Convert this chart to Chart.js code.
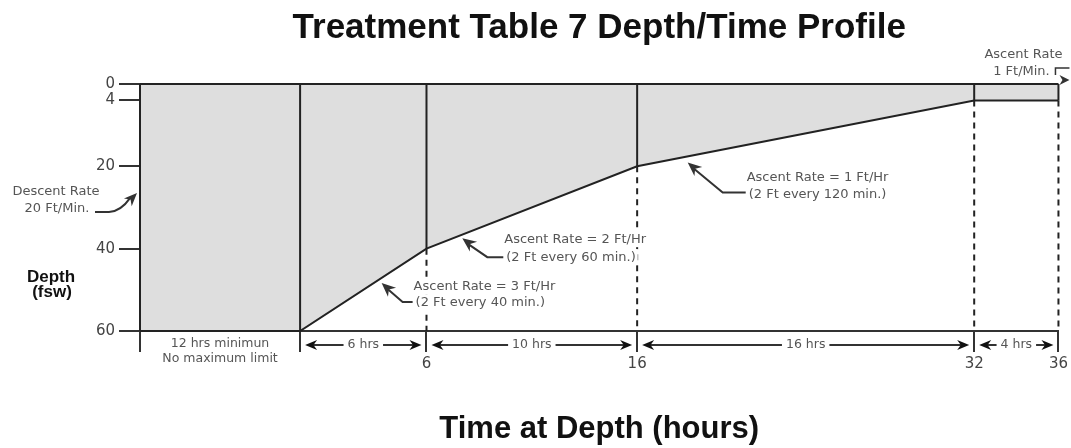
<!DOCTYPE html>
<html><head><meta charset="utf-8">
<script src="https://cdn.jsdelivr.net/npm/chart.js@4.4.1/dist/chart.umd.min.js"></script>
<style>html,body{margin:0;padding:0;background:#fff;}#wrap{width:1071px;height:448px;position:relative;}</style>
</head><body><div id="wrap"><canvas id="c"></canvas></div>
<script>
const chartTitle = 'Treatment Table 7 Depth/Time Profile';
const xAxisTitle = 'Time at Depth (hours)';
const yAxisTitle = ['Depth', '(fsw)'];
// stage boundaries (hours); the 12-hour minimum first stage is drawn compressed, starting at -7.6
const stageTimes = [-7.6, 0, 6, 16, 32, 36];
const stageDepths = [60, 60, 40, 20, 4, 4];
const xTickLabels = ['', '', '6', '16', '32', '36'];
const depthTicks = [0, 4, 20, 40, 60];
const firstStageNote = ['12 hrs minimun', 'No maximum limit'];
const durationLabels = ['6 hrs', '10 hrs', '16 hrs', '4 hrs'];
const descentNote = ['Descent Rate', '20 Ft/Min.'];
const ascentNotes = [
  ['Ascent Rate = 3 Ft/Hr', '(2 Ft every 40 min.)'],
  ['Ascent Rate = 2 Ft/Hr', '(2 Ft every 60 min.)'],
  ['Ascent Rate = 1 Ft/Hr', '(2 Ft every 120 min.)']
];
const surfaceNote = ['Ascent Rate', '1 Ft/Min.'];

const LINE = '#222', TEXT = '#555', ARROW = '#333', FILL = '#dedede';
const NOTE_FONT = '13px "DejaVu Sans"';

function depthAt(t) {
  for (let i = 1; i < stageTimes.length; i++) {
    if (t <= stageTimes[i]) {
      const f = (t - stageTimes[i-1]) / (stageTimes[i] - stageTimes[i-1]);
      return stageDepths[i-1] + f * (stageDepths[i] - stageDepths[i-1]);
    }
  }
  return stageDepths[stageDepths.length - 1];
}

function arrowHead(ctx, fx, fy, tx, ty, len, hw) {
  len = len || 12; hw = hw || 5;
  const a = Math.atan2(ty - fy, tx - fx), c = Math.cos(a), s = Math.sin(a);
  ctx.beginPath();
  ctx.moveTo(tx, ty);
  ctx.lineTo(tx - len*c + hw*s, ty - len*s - hw*c);
  ctx.lineTo(tx - len*0.7*c, ty - len*0.7*s);
  ctx.lineTo(tx - len*c - hw*s, ty - len*s + hw*c);
  ctx.closePath();
  ctx.fill();
}

function textBg(ctx, txt, x, y, align) {
  const w = ctx.measureText(txt).width;
  let x0 = align === 'center' ? x - w/2 : (align === 'right' ? x - w : x);
  ctx.fillStyle = '#fff';
  ctx.fillRect(x0 - 2, y - 8, w + 4, 16);
  ctx.fillStyle = TEXT;
  ctx.textAlign = align;
  ctx.fillText(txt, x, y);
}

const ascentLayout = [
  {t: 3.87, dy: 5, bx: 21, by: 19, ex: 31, tx: 33, l1: 4, l2: 20},
  {t: 7.7, dy: 3.5, bx: 25, by: 19, ex: 41, tx: 43, l1: 1, l2: 19},
  {t: 18.4, dy: 6, bx: 35, by: 30, ex: 58, tx: 60, l1: 15, l2: 32}
];

const annotations = {
  id: 'annotations',
  afterDraw(chart) {
    const ctx = chart.ctx, xs = chart.scales.x, ys = chart.scales.y, ca = chart.chartArea;
    const px = v => xs.getPixelForValue(v), py = v => ys.getPixelForValue(v);
    ctx.save();
    // main title
    ctx.fillStyle = '#111';
    ctx.font = 'bold 35px "Liberation Sans"';
    ctx.textAlign = 'center'; ctx.textBaseline = 'middle';
    ctx.fillText(chartTitle, (ca.left + ca.right) / 2, 28);
    // y axis title
    ctx.font = 'bold 17px "Liberation Sans"';
    ctx.fillText(yAxisTitle[0], ca.left - 89, py(47));
    ctx.fillText(yAxisTitle[1], ca.left - 88, py(50.7));

    ctx.font = NOTE_FONT;
    ctx.strokeStyle = ARROW; ctx.fillStyle = ARROW; ctx.lineWidth = 2;
    // descent note
    const dtx = px(stageTimes[0]) - 3, dty = py(26.5);
    ctx.beginPath();
    ctx.moveTo(dtx - 42, dty + 19);
    ctx.lineTo(dtx - 28, dty + 19);
    ctx.quadraticCurveTo(dtx - 16, dty + 18, dtx - 7, dty + 5);
    ctx.stroke();
    ctx.fillStyle = ARROW;
    arrowHead(ctx, dtx - 14, dty + 14, dtx, dty, 13, 5.5);
    ctx.fillStyle = TEXT; ctx.textAlign = 'center'; ctx.textBaseline = 'middle';
    ctx.fillText(descentNote[0], dtx - 81, dty - 1);
    ctx.fillText(descentNote[1], dtx - 80, dty + 16);

    // ascent notes
    ascentLayout.forEach((L, i) => {
      const tx = px(L.t), ty = py(depthAt(L.t)) + L.dy;
      ctx.strokeStyle = ARROW; ctx.fillStyle = ARROW; ctx.lineWidth = 2;
      ctx.beginPath();
      ctx.moveTo(tx + 6, ty + 6);
      ctx.lineTo(tx + L.bx, ty + L.by);
      ctx.lineTo(tx + L.ex, ty + L.by);
      ctx.stroke();
      arrowHead(ctx, tx + L.bx, ty + L.by, tx, ty, 14, 6);
      ctx.font = NOTE_FONT; ctx.textBaseline = 'middle';
      textBg(ctx, ascentNotes[i][0], tx + L.tx - 1, ty + L.l1, 'left');
      textBg(ctx, ascentNotes[i][1], tx + L.tx + 1, ty + L.l2, 'left');
    });

    // surface note (top right)
    const sx = px(stageTimes[5]);
    ctx.fillStyle = TEXT; ctx.textAlign = 'center';
    ctx.fillText(surfaceNote[0], sx - 35, py(0) - 29);
    ctx.fillText(surfaceNote[1], sx - 37, py(0) - 12);
    ctx.strokeStyle = ARROW; ctx.lineWidth = 1.5;
    ctx.beginPath();
    ctx.moveTo(sx - 3, py(0) - 9); ctx.lineTo(sx - 3, py(0) - 16); ctx.lineTo(sx + 11, py(0) - 16);
    ctx.stroke();
    ctx.fillStyle = ARROW;
    arrowHead(ctx, sx, py(0) - 4, sx + 11, py(0) - 4, 10, 5);

    // dimension row
    const dimY = py(60) + 14;
    ctx.font = '12.5px "DejaVu Sans"';
    ctx.fillStyle = TEXT; ctx.textAlign = 'center';
    const fx = (px(stageTimes[0]) + px(stageTimes[1])) / 2;
    ctx.fillText(firstStageNote[0], fx, py(60) + 13);
    ctx.fillText(firstStageNote[1], fx, py(60) + 28);
    for (let i = 1; i < stageTimes.length - 1; i++) {
      const x1 = px(stageTimes[i]) + 5, x2 = px(stageTimes[i+1]) - 5, mid = (x1 + x2) / 2;
      const w = ctx.measureText(durationLabels[i-1]).width;
      ctx.strokeStyle = ARROW; ctx.lineWidth = 2;
      ctx.beginPath();
      ctx.moveTo(x1 + 8, dimY); ctx.lineTo(mid - w/2 - 4, dimY);
      ctx.moveTo(mid + w/2 + 4, dimY); ctx.lineTo(x2 - 8, dimY);
      ctx.stroke();
      ctx.fillStyle = '#111';
      arrowHead(ctx, x1 + 12, dimY, x1, dimY, 12, 5);
      arrowHead(ctx, x2 - 12, dimY, x2, dimY, 12, 5);
      ctx.fillStyle = TEXT;
      ctx.fillText(durationLabels[i-1], mid, dimY);
    }
    ctx.restore();
  }
};

const profilePoints = stageTimes.map((t, i) => ({x: t, y: stageDepths[i]}));
const lineBase = {pointRadius: 0, borderColor: LINE, borderWidth: 2, fill: false, tension: 0, clip: false};
const datasets = [
  Object.assign({}, lineBase, {label: 'profile', data: profilePoints, fill: {value: 0}, backgroundColor: FILL, order: 10}),
  Object.assign({}, lineBase, {label: 'surface', data: [{x: stageTimes[0], y: 0}, {x: stageTimes[stageTimes.length-1], y: 0}], order: 1})
];
stageTimes.forEach((t, i) => {
  datasets.push(Object.assign({}, lineBase, {label: 'v' + i, data: [{x: t, y: 0}, {x: t, y: stageDepths[i]}], order: 1}));
  if (stageDepths[i] < 60) {
    datasets.push(Object.assign({}, lineBase, {label: 'd' + i, data: [{x: t, y: stageDepths[i]}, {x: t, y: 60}], borderDash: [6, 5], order: 1}));
  }
});

new Chart(document.getElementById('c'), {
  type: 'line',
  data: {datasets},
  options: {
    responsive: true, maintainAspectRatio: false, animation: false, devicePixelRatio: 1,
    layout: {padding: {top: 84, right: 11, left: 0, bottom: 0}},
    plugins: {legend: {display: false}, tooltip: {enabled: false}, title: {display: false}},
    scales: {
      x: {
        type: 'linear', position: 'bottom', min: stageTimes[0], max: stageTimes[stageTimes.length-1], z: 1,
        afterFit: s => { s.height = 117; },
        afterBuildTicks: s => { s.ticks = stageTimes.map(v => ({value: v})); },
        grid: {drawOnChartArea: false, drawTicks: true, tickLength: 21, color: '#333', lineWidth: 2},
        border: {display: true, color: '#333', width: 2},
        ticks: {autoSkip: false, maxRotation: 0, padding: 3, color: '#444', font: {family: 'DejaVu Sans', size: 15},
                callback: (v, i) => xTickLabels[i]},
        title: {display: true, text: xAxisTitle, color: '#111', font: {family: 'Liberation Sans', size: 31, weight: 'bold'}, padding: {top: 0, bottom: 0}}
      },
      y: {
        type: 'linear', reverse: true, min: 0, max: 60, z: 1,
        afterFit: s => { s.width = 140; },
        afterBuildTicks: s => { s.ticks = depthTicks.map(v => ({value: v})); },
        grid: {drawOnChartArea: false, drawTicks: true, tickLength: 21, color: '#333', lineWidth: 2},
        border: {display: true, color: '#333', width: 2},
        ticks: {autoSkip: false, padding: 4, color: '#444', font: {family: 'DejaVu Sans', size: 15}}
      }
    }
  },
  plugins: [annotations]
});
</script></body></html>
